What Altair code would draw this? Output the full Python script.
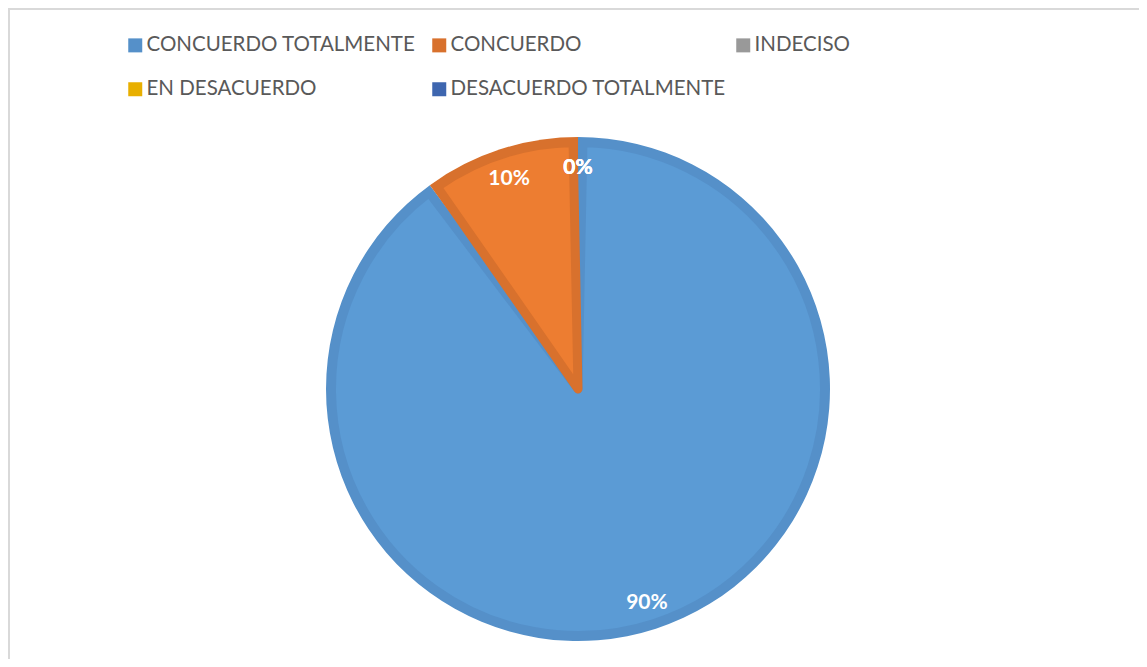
import altair as alt
import pandas as pd

cats = ["CONCUERDO TOTALMENTE", "CONCUERDO", "INDECISO", "EN DESACUERDO", "DESACUERDO TOTALMENTE"]
valores = [90, 10, 0, 0, 0]
etiquetas = ["90%", "10%", "0%", "0%", "0%"]
claros = ["#5B9BD5", "#ED7D31", "#A5A5A5", "#FFC000", "#4472C4"]
oscuros = ["#5590C9", "#D8712D", "#999999", "#E8AF00", "#3E66AF"]

df = pd.DataFrame({"cat": cats, "valor": valores, "lab": etiquetas, "idx": list(range(len(cats)))})

CX, CY = 570, 381

base = alt.Chart(df).encode(
    theta=alt.Theta("valor:Q", stack=True),
    order=alt.Order("idx:Q", sort="ascending"),
    x=alt.value(CX),
    y=alt.value(CY),
)

dark = base.mark_arc(outerRadius=252).encode(
    color=alt.Color(
        "cat:N",
        scale=alt.Scale(domain=cats, range=oscuros),
        legend=alt.Legend(
            title=None,
            orient="none",
            legendX=117,
            legendY=27,
            direction="horizontal",
            columns=3,
            gridAlign="all",
            columnPadding=7,
            rowPadding=23,
            symbolType="square",
            symbolSize=196,
            symbolStrokeWidth=0,
            labelFont="Lato",
            labelFontSize=20.5,
            labelColor="#595959",
            labelOffset=1,
            labelLimit=400,
        ),
    )
).transform_filter("datum.valor > 0")

light = base.mark_arc(outerRadius=246.5, padAngle=0.04, strokeWidth=9, strokeJoin="round").encode(
    fill=alt.Fill("cat:N", scale=alt.Scale(domain=cats, range=claros), legend=None),
    stroke=alt.Stroke("cat:N", scale=alt.Scale(domain=cats, range=oscuros), legend=None),
).transform_filter("datum.valor > 0")

text = base.mark_text(
    radius=223, font="Lato", fontSize=21, fontWeight="bold", color="white",
    align="center", baseline="middle", dy=2
).encode(text="lab:N", detail="cat:N")

frame_left = alt.Chart(df).mark_rule(color="#D9D9D9", strokeWidth=2).encode(
    x=alt.value(1), y=alt.value(0), y2=alt.value(651)
)
frame_top = alt.Chart(df).mark_rule(color="#D9D9D9", strokeWidth=2).encode(
    y=alt.value(1), x=alt.value(0), x2=alt.value(1131)
)

chart = alt.layer(frame_left, frame_top, dark, light, text).resolve_scale(
    color="independent", fill="independent", stroke="independent"
).properties(
    width=1131, height=651, padding=0,
    autosize=alt.AutoSizeParams(type="none"),
).configure_view(stroke=None)

chart.save("out.html", embed_options={"renderer": "svg", "actions": False})
